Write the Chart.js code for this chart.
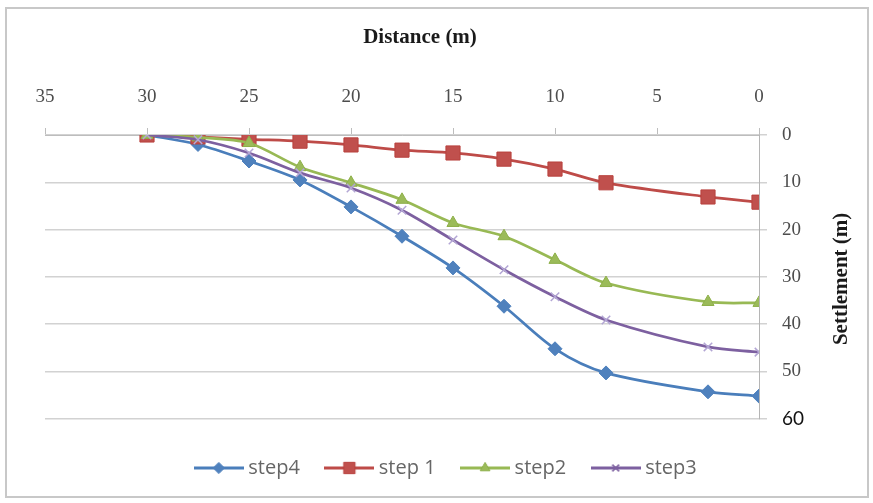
<!DOCTYPE html>
<html>
<head>
<meta charset="utf-8">
<script src="https://cdn.jsdelivr.net/npm/chart.js@4.4.1/dist/chart.umd.min.js"></script>
<style>
  html, body { margin: 0; background: #fff; }
  #frame { position: absolute; left: 5px; top: 7px; width: 864px; height: 491px; border: 2px solid #c8c8c8; box-sizing: border-box; }
  #wrap { position: absolute; left: 0; top: 0; width: 873px; height: 503px; }
</style>
</head>
<body>
<div id="frame"></div>
<div id="wrap"><canvas id="chart" width="873" height="503"></canvas></div>
<script>
// distance from the face (m) and settlement per excavation step
const distance = [30, 27.5, 25, 22.5, 20, 17.5, 15, 12.5, 10, 7.5, 2.5, 0];
const step4 = [0, 2, 5.5, 9.5, 15.2, 21.4, 28.1, 36.2, 45.2, 50.3, 54.3, 55.2];
const step1 = [0, 0.4, 0.9, 1.3, 2.1, 3.2, 3.8, 5.1, 7.2, 10.1, 13.1, 14.2];
const step2 = [0, 0.5, 1.7, 6.8, 10.1, 13.7, 18.6, 21.4, 26.4, 31.3, 35.3, 35.5];
const step3 = [0, 1, 3.8, 8, 11.2, 15.9, 22.2, 28.5, 34.2, 39.1, 44.8, 45.9];

const xMin = 0, xMax = 35, xStep = 5;
const yMin = 0, yMax = 60, yStep = 10;

const xTitle = 'Distance (m)';
const yTitle = 'Settlement (m)';

const serif = 'Liberation Serif, Times New Roman, serif';
const sans = 'Open Sans, Lato, sans-serif';

function pts(vals) {
  return distance.map((d, i) => ({ x: d, y: vals[i] }));
}

const series = [
  { label: 'step4', data: step4, line: '#4a7ebb', fill: '#4f81bd', stroke: '#4f81bd', style: 'rectRot', r: 7, bw: 1, order: 4 },
  { label: 'step 1', data: step1, line: '#be4b48', fill: '#c0504d', stroke: '#b8403d', style: 'rect', r: 10, bw: 1, order: 3 },
  { label: 'step2', data: step2, line: '#98b954', fill: '#9bbb59', stroke: '#8eb04a', style: 'triangle', r: 7, bw: 1, order: 2 },
  { label: 'step3', data: step3, line: '#7d60a0', fill: 'rgba(0,0,0,0)', stroke: '#b3a6d4', style: 'crossRot', r: 6, bw: 1.5, order: 1 }
];

// line + marker swatch used as legend point style
function swatch(s) {
  const c = document.createElement('canvas');
  c.width = 50; c.height = 20;
  const g = c.getContext('2d');
  g.strokeStyle = s.line;
  g.lineWidth = 3;
  g.beginPath();
  g.moveTo(0, 10);
  g.lineTo(50, 10);
  g.stroke();
  g.fillStyle = s.fill;
  g.strokeStyle = s.style === 'crossRot' ? s.line : s.stroke;
  g.lineWidth = s.bw;
  Chart.helpers.drawPoint(g, { pointStyle: s.style, radius: s.r * 0.8, rotation: 0, borderWidth: s.bw }, 25, 10);
  return c;
}

const axisTitles = {
  id: 'axisTitles',
  afterDraw(chart) {
    const { ctx, chartArea } = chart;
    ctx.save();
    ctx.fillStyle = '#1a1a1a';
    ctx.font = 'bold 21px ' + serif;
    ctx.textAlign = 'center';
    ctx.textBaseline = 'middle';
    ctx.fillText(xTitle, (chartArea.left + chartArea.right) / 2 + 18, chartArea.top - 97);
    ctx.translate(chartArea.right + 83, (chartArea.top + chartArea.bottom) / 2 + 2);
    ctx.rotate(-Math.PI / 2);
    ctx.fillText(yTitle, 0, 0);
    ctx.restore();
  }
};

new Chart(document.getElementById('chart'), {
  type: 'line',
  data: {
    datasets: series.map(s => ({
      label: s.label,
      data: pts(s.data),
      borderColor: s.line,
      borderWidth: 2.75,
      tension: 0.3,
      fill: false,
      pointStyle: s.style,
      pointRadius: s.r,
      pointBackgroundColor: s.fill,
      pointBorderColor: s.stroke,
      pointBorderWidth: s.bw,
      order: s.order
    }))
  },
  options: {
    responsive: false,
    animation: false,
    devicePixelRatio: 1,
    layout: { padding: { left: 45, right: 22, top: 20, bottom: 15 } },
    scales: {
      x: {
        type: 'linear',
        position: 'top',
        reverse: true,
        min: xMin, max: xMax,
        ticks: { stepSize: xStep, padding: 20, maxRotation: 0, color: '#4d4d4d', font: { family: serif, size: 19 } },
        grid: { drawOnChartArea: false, tickLength: 7, color: '#bdbdbd' },
        border: { color: '#bdbdbd' },
        afterFit: s => { s.height = 115; }
      },
      y: {
        position: 'right',
        reverse: true,
        min: yMin, max: yMax,
        ticks: {
          stepSize: yStep,
          padding: 15,
          crossAlign: 'near',
          color: c => c.tick && c.tick.value === yMax ? '#111' : '#4d4d4d',
          font: c => c.tick && c.tick.value === yMax ? { family: 'Lato, sans-serif', size: 19 } : { family: serif, size: 19 }
        },
        grid: { color: '#d2d2d2', lineWidth: 1.5, tickLength: 8 },
        border: { color: '#b5b5b5' },
        afterFit: s => { s.width = 92; }
      }
    },
    plugins: {
      title: { display: false },
      tooltip: { enabled: false },
      legend: {
        position: 'bottom',
        title: { display: true, text: '', padding: { top: 8, bottom: 0 }, font: { size: 1 } },
        labels: {
          usePointStyle: true,
          pointStyleWidth: 39,
          padding: 30,
          color: '#404040',
          font: { family: sans, size: 20 },
          generateLabels: () => series.map((s, i) => ({
            text: s.label,
            pointStyle: swatch(s),
            fillStyle: s.fill,
            strokeStyle: s.line,
            lineWidth: 0,
            hidden: false,
            datasetIndex: i
          }))
        }
      }
    }
  },
  plugins: [axisTitles]
});
</script>
</body>
</html>
